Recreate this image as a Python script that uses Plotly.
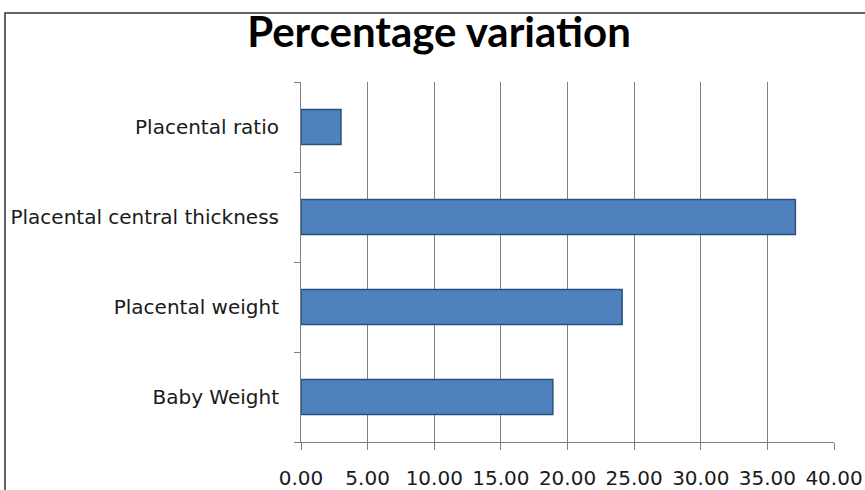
import plotly.graph_objects as go

# Percentage variation of each measure (bottom to top)
categories = ["Baby Weight", "Placental weight", "Placental central thickness", "Placental ratio"]
values = [18.9, 24.1, 37.1, 3.0]
x_ticks = [0, 5, 10, 15, 20, 25, 30, 35, 40]

LABEL_FONT = "DejaVu Sans"
TITLE_FONT = "Lato"
GRID = "#7f7f7f"

fig = go.Figure(
    go.Bar(
        y=categories,
        x=values,
        orientation="h",
        width=0.39,
        marker=dict(color="#4F81BD", line=dict(color="#2B4F80", width=1.5)),
    )
)

# plot area: x from 301 to 834 px, y from 82 to 442 px
W, H = 865, 490
L, R, T, B = 301, 31, 82, 48
pw, ph = W - L - R, H - T - B

def px_to_paper_x(px):
    return (px - L) / pw

def py_to_paper_y(py):
    return (H - B - py) / ph

fig.update_layout(
    width=W,
    height=H,
    autosize=False,
    margin=dict(l=L, r=R, t=T, b=B, pad=0, autoexpand=False),
    paper_bgcolor="white",
    plot_bgcolor="white",
    showlegend=False,
    font=dict(family=LABEL_FONT, size=20, color="#1a1a1a"),
    title=dict(
        text="<b>Percentage variation</b>",
        font=dict(family=TITLE_FONT, size=42, color="#000000"),
        x=439 / W,
        xref="container",
        xanchor="center",
        y=1 - 32 / H,
        yref="container",
        yanchor="middle",
    ),
    xaxis=dict(
        range=[0, 40],
        tickvals=x_ticks,
        tickformat=".2f",
        showgrid=True,
        gridcolor=GRID,
        gridwidth=1,
        zeroline=False,
        showline=True,
        linecolor=GRID,
        linewidth=1,
        ticks="outside",
        ticklen=7,
        tickcolor=GRID,
        ticklabelstandoff=11,
        fixedrange=True,
    ),
    yaxis=dict(
        categoryorder="array",
        categoryarray=categories,
        range=[-0.5, 3.5],
        showgrid=False,
        zeroline=False,
        showline=True,
        linecolor=GRID,
        linewidth=1,
        ticks="outside",
        tickson="boundaries",
        ticklen=6,
        tickcolor=GRID,
        ticklabelstandoff=17,
        fixedrange=True,
    ),
    shapes=[
        dict(
            type="rect",
            xref="paper",
            yref="paper",
            x0=px_to_paper_x(5),
            x1=px_to_paper_x(875),
            y0=py_to_paper_y(500),
            y1=py_to_paper_y(13),
            line=dict(color="#333333", width=1.5),
            fillcolor="rgba(0,0,0,0)",
            layer="above",
        )
    ],
)

fig.write_html("out.html")
